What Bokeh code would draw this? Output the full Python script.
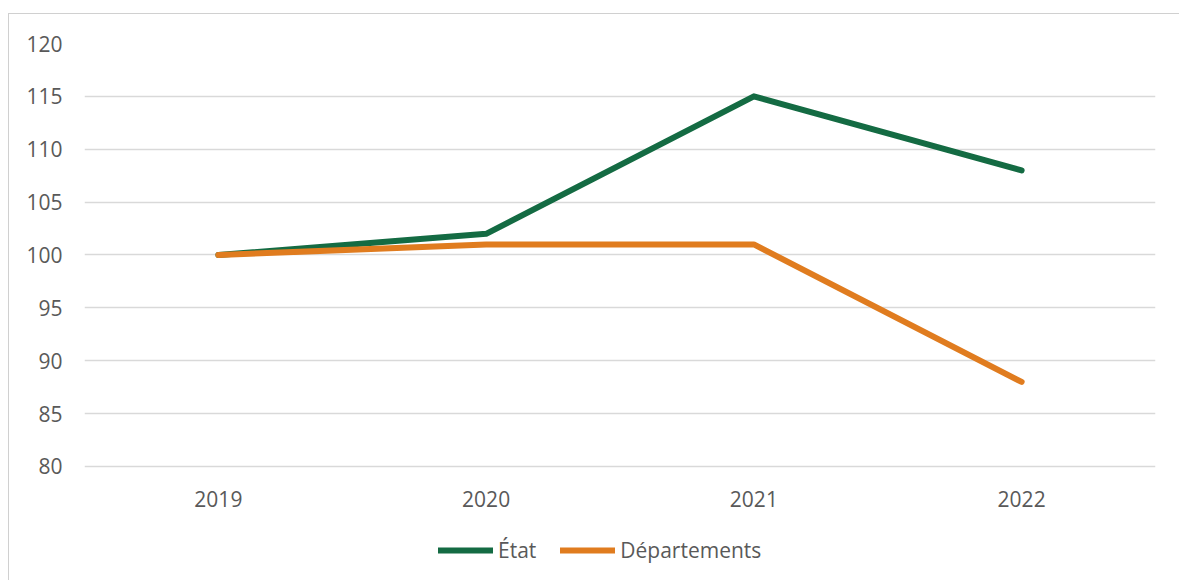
from bokeh.plotting import figure
from bokeh.models import ColumnDataSource, Legend, LegendItem, FixedTicker
from bokeh.embed import file_html
from bokeh.resources import INLINE

years = ["2019", "2020", "2021", "2022"]
etat = [100, 102, 115, 108]
departements = [100, 101, 101, 88]
y_ticks = [80, 85, 90, 95, 100, 105, 110, 115, 120]

GREEN = "#146B43"
ORANGE = "#E07C1F"
TEXT = "#595959"
GRID = "#D9D9D9"
FONT = "Open Sans"
FS = "21px"

# frame runs to the bottom edge; 80 sits 115px above it (10.575 px per unit)
p = figure(x_range=years, y_range=(69.125, 120), width=1171, height=567,
           output_backend="svg", toolbar_location=None,
           min_border_left=75, min_border_right=25, min_border_top=29, min_border_bottom=0)
p.margin = (13, 0, 0, 8)
p.styles = {"border-left": "1px solid #D0D0D0", "border-top": "1px solid #D0D0D0"}
p.outline_line_color = None
p.background_fill_color = "white"
p.border_fill_color = "white"

src = ColumnDataSource(dict(x=years, etat=etat, dep=departements))
r1 = p.line("x", "etat", source=src, line_color=GREEN, line_width=6, line_cap="round", line_join="round")
r2 = p.line("x", "dep", source=src, line_color=ORANGE, line_width=6, line_cap="round", line_join="round")

p.yaxis.ticker = FixedTicker(ticks=y_ticks)
for ax in (p.xaxis[0], p.yaxis[0]):
    ax.axis_line_color = None
    ax.major_tick_line_color = None
    ax.minor_tick_line_color = None
    ax.major_tick_out = 0
    ax.major_tick_in = 0
    ax.major_label_text_font = FONT
    ax.major_label_text_font_size = FS
    ax.major_label_text_color = TEXT
p.yaxis.major_label_standoff = 22
p.xaxis.major_label_standoff = 25
p.xaxis.fixed_location = y_ticks[0]

p.xgrid.grid_line_color = None
p.ygrid.grid_line_color = GRID
p.ygrid.grid_line_width = 1.5

legend = Legend(items=[LegendItem(label="État", renderers=[r1]),
                       LegendItem(label="Départements", renderers=[r2])],
                orientation="horizontal", location=(354, 17),
                border_line_color=None, background_fill_alpha=0,
                glyph_width=55, glyph_height=20, label_standoff=5, spacing=24,
                label_text_font=FONT, label_text_font_size=FS, label_text_color=TEXT,
                margin=0, padding=0)
p.add_layout(legend, "center")

open("out.html", "w").write(file_html(p, INLINE))
